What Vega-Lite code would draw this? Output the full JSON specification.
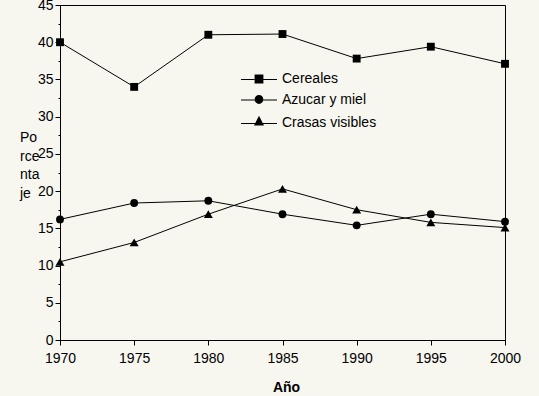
{
  "$schema": "https://vega.github.io/schema/vega-lite/v6.json",
  "width": 445,
  "height": 335,
  "autosize": "none",
  "padding": {"left": 60, "top": 5, "right": 34, "bottom": 56},
  "background": "#f7f7f0",
  "config": {
    "view": {"stroke": "black", "strokeWidth": 1, "fill": null},
    "font": "Liberation Sans",
    "axis": {"domainColor": "black", "tickColor": "black", "labelColor": "black", "titleColor": "black", "grid": false, "labelFont": "Liberation Sans", "titleFont": "Liberation Sans", "labelFontSize": 14, "titleFontSize": 14}
  },
  "data": {
    "values": [
      {"serie": "Cereales", "anio": 1970, "valor": 40.0},
      {"serie": "Cereales", "anio": 1975, "valor": 34.0},
      {"serie": "Cereales", "anio": 1980, "valor": 41.0},
      {"serie": "Cereales", "anio": 1985, "valor": 41.1},
      {"serie": "Cereales", "anio": 1990, "valor": 37.8},
      {"serie": "Cereales", "anio": 1995, "valor": 39.4},
      {"serie": "Cereales", "anio": 2000, "valor": 37.1},
      {"serie": "Azucar y miel", "anio": 1970, "valor": 16.2},
      {"serie": "Azucar y miel", "anio": 1975, "valor": 18.4},
      {"serie": "Azucar y miel", "anio": 1980, "valor": 18.7},
      {"serie": "Azucar y miel", "anio": 1985, "valor": 16.9},
      {"serie": "Azucar y miel", "anio": 1990, "valor": 15.4},
      {"serie": "Azucar y miel", "anio": 1995, "valor": 16.9},
      {"serie": "Azucar y miel", "anio": 2000, "valor": 15.9},
      {"serie": "Crasas visibles", "anio": 1970, "valor": 10.5},
      {"serie": "Crasas visibles", "anio": 1975, "valor": 13.1},
      {"serie": "Crasas visibles", "anio": 1980, "valor": 16.9},
      {"serie": "Crasas visibles", "anio": 1985, "valor": 20.3},
      {"serie": "Crasas visibles", "anio": 1990, "valor": 17.5},
      {"serie": "Crasas visibles", "anio": 1995, "valor": 15.8},
      {"serie": "Crasas visibles", "anio": 2000, "valor": 15.1}
    ]
  },
  "encoding": {
    "x": {
      "field": "anio", "type": "quantitative",
      "scale": {"domain": [1970, 2000], "nice": false, "zero": false},
      "axis": {"values": [1970, 1975, 1980, 1985, 1990, 1995, 2000], "format": "d", "title": "Año", "titleFontWeight": "bold", "titleBaseline": "alphabetic", "titleY": 51, "titleX": 226, "tickSize": 5, "labelPadding": 6, "labelFlush": false, "labelOverlap": false}
    },
    "y": {
      "field": "valor", "type": "quantitative",
      "scale": {"domain": [0, 45], "nice": false},
      "axis": {
        "values": [0, 2.5, 5, 7.5, 10, 12.5, 15, 17.5, 20, 22.5, 25, 27.5, 30, 32.5, 35, 37.5, 40, 42.5, 45],
        "labelExpr": "datum.value % 5 === 0 ? datum.label : ''",
        "tickSize": {"condition": {"test": "datum.value % 5 === 0", "value": 5}, "value": 2},
        "labelPadding": 2, "labelFlush": false, "labelOverlap": false,
        "title": ["Po", "rce", "nta", "je"],
        "titleAngle": 0, "titleAlign": "left", "titleBaseline": "alphabetic",
        "titleX": -40.5, "titleY": 136.5, "titleLineHeight": 18.5, "titleFontWeight": "normal"
      }
    }
  },
  "layer": [
    {
      "mark": {"type": "line", "color": "black", "strokeWidth": 1},
      "encoding": {"detail": {"field": "serie"}}
    },
    {
      "mark": {"type": "point", "filled": true, "color": "black", "opacity": 1},
      "encoding": {
        "size": {"condition": {"test": "datum.serie === 'Crasas visibles'", "value": 80}, "value": 62},
        "shape": {"condition": [{"test": "datum.serie === 'Cereales'", "value": "square"}, {"test": "datum.serie === 'Crasas visibles'", "value": "triangle-up"}], "value": "circle"}
      }
    },
    {
      "transform": [{"filter": "datum.anio > 2100"}],
      "mark": {"type": "point", "filled": true, "color": "black", "opacity": 1},
      "encoding": {
        "shape": {
          "field": "serie", "type": "nominal",
          "scale": {"domain": ["Cereales", "Azucar y miel", "Crasas visibles"], "range": [
            "M-4.5,0H-1.1V0.25H-4.5ZM1.1,0H4.5V0.25H1.1ZM-1.1,-1.1H1.1V1.1H-1.1Z",
            "M-4.5,0H-1.05V0.25H-4.5ZM1.05,0H4.5V0.25H1.05ZM-1.1,0A1.1,1.1,0,1,0,1.1,0A1.1,1.1,0,1,0,-1.1,0Z",
            "M-4.5,0H-0.9V0.25H-4.5ZM0.9,0H4.5V0.25H0.9ZM0,-1.8L1.25,0.6H-1.25Z"
          ]},
          "legend": {
            "orient": "none", "legendX": 192, "legendY": 67, "title": null,
            "labelFont": "Liberation Sans", "labelFontSize": 14, "labelColor": "black",
            "symbolSize": 64, "labelOffset": 16, "rowPadding": 4.5
          }
        }
      }
    }
  ]
}
